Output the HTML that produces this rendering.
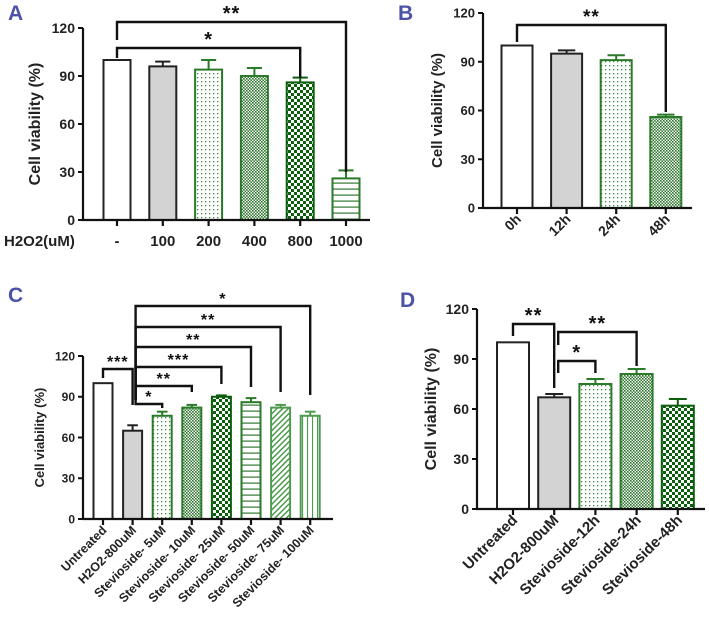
<!DOCTYPE html>
<html><head><meta charset="utf-8"><style>
html,body{margin:0;padding:0;background:#fff;}
svg{display:block;font-family:"Liberation Sans",Arial,sans-serif;}
</style></head><body>
<svg id="fig" width="709" height="622" viewBox="0 0 709 622">
<defs>
<pattern id="pDots" width="4" height="4" patternUnits="userSpaceOnUse"><rect width="4" height="4" fill="#fff"/><rect x="1" y="1" width="1.3" height="1.3" fill="#3f8a3f"/></pattern>
<pattern id="pFine" width="3" height="3" patternUnits="userSpaceOnUse"><rect width="3" height="3" fill="#fff"/><rect width="1.6" height="1.6" fill="#2f7a2f"/><rect x="1.5" y="1.5" width="1.5" height="1.5" fill="#2f7a2f"/></pattern>
<pattern id="pCheck" width="6" height="6" patternUnits="userSpaceOnUse"><rect width="6" height="6" fill="#fff"/><rect width="3" height="3" fill="#0b5e0b"/><rect x="3" y="3" width="3" height="3" fill="#0b5e0b"/></pattern>
<pattern id="pHoriz" width="6" height="6" patternUnits="userSpaceOnUse"><rect width="6" height="6" fill="#fff"/><rect y="2.5" width="6" height="1.2" fill="#2f7a2f"/></pattern>
<pattern id="pDiag" width="4" height="4" patternUnits="userSpaceOnUse" patternTransform="rotate(45)"><rect width="4" height="4" fill="#fff"/><rect width="1.5" height="4" fill="#4f9a4f"/></pattern>
<pattern id="pVert" width="5" height="5" patternUnits="userSpaceOnUse"><rect width="5" height="5" fill="#fff"/><rect x="2" width="1.1" height="5" fill="#4f9a4f"/></pattern>
</defs>
</svg>
<script>
// Panel A data
const catsA = ["-", "100", "200", "400", "800", "1000"];
const valsA = [100, 96, 94, 90, 86, 26];
const errsA = [0, 3, 6, 5, 3, 5];
// Panel B data
const catsB = ["0h", "12h", "24h", "48h"];
const valsB = [100, 95, 91, 56];
const errsB = [0, 2, 3, 1.5];
// Panel C data
const catsC = ["Untreated", "H2O2-800uM", "Stevioside- 5uM", "Stevioside- 10uM", "Stevioside- 25uM", "Stevioside- 50uM", "Stevioside- 75uM", "Stevioside- 100uM"];
const valsC = [100, 65, 76, 82, 90, 86, 82, 76];
const errsC = [0, 4, 3, 2, 1, 3, 2, 3];
// Panel D data
const catsD = ["Untreated", "H2O2-800uM", "Stevioside-12h", "Stevioside-24h", "Stevioside-48h"];
const valsD = [100, 67, 75, 81, 62];
const errsD = [0, 2, 3, 3, 4];
const yTicks = [0, 30, 60, 90, 120];

const NS = "http://www.w3.org/2000/svg";
const svg = document.getElementById("fig");
function mk(tag, attrs, parent) {
  const e = document.createElementNS(NS, tag);
  for (const k in attrs) e.setAttribute(k, attrs[k]);
  (parent || svg).appendChild(e);
  return e;
}
const styles = {
  white: {fill: "#fff", stroke: "#222"},
  grey: {fill: "#d3d3d3", stroke: "#222"},
  dots: {fill: "url(#pDots)", stroke: "#2a7a2a"},
  fine: {fill: "url(#pFine)", stroke: "#2a7a2a"},
  check: {fill: "url(#pCheck)", stroke: "#0b5e0b"},
  horiz: {fill: "url(#pHoriz)", stroke: "#2a7a2a"},
  diag: {fill: "url(#pDiag)", stroke: "#4f9a4f"},
  vert: {fill: "url(#pVert)", stroke: "#4f9a4f"}
};

function panel(p) {
  const g = mk("g", {});
  
  
  const y = v => p.y0 - (v / 120) * (p.y0 - p.y120);
  const x = i => p.xFirst + i * p.step;
  const L = mk("text", {x: p.lx, y: p.ly, "font-size": 21, "font-weight": "bold", fill: "#4b52a8"}, g);
  L.textContent = p.letter;
  
  
  const ya = mk("line", {x1: p.ax, y1: y(120), x2: p.ax, y2: p.y0, stroke: "#111", "stroke-width": 2.2}, g);
  
  
  yTicks.forEach(t => {
    mk("line", {x1: p.ax - 5, y1: y(t), x2: p.ax, y2: y(t), stroke: "#111", "stroke-width": 2}, g);
    const tt = mk("text", {x: p.ax - 8, y: y(t) + p.fs * 0.36, "font-size": p.fs, "font-weight": "bold", "text-anchor": "end", fill: "#222"}, g);
    tt.textContent = t;
    
    
  });
  const yt = mk("text", {x: 0, y: 0, "font-size": p.tfs, "font-weight": "bold", "text-anchor": "middle", fill: "#222",
    transform: `translate(${p.titleX},${(y(120) + p.y0) / 2}) rotate(-90)`}, g);
  yt.textContent = "Cell viability (%)";
  
  
  p.vals.forEach((v, i) => {
    const s = styles[p.styles[i]];
    const cx = x(i), w = p.bw;
    const b = mk("rect", {x: cx - w / 2, y: y(v), width: w, height: p.y0 - y(v), fill: s.fill, stroke: s.stroke, "stroke-width": 2}, g);
    
    
    if (p.errs[i] > 0) {
      const top = y(v + p.errs[i]);
      mk("line", {x1: cx, y1: y(v), x2: cx, y2: top, stroke: s.stroke, "stroke-width": 2}, g);
      mk("line", {x1: cx - w * 0.28, y1: top, x2: cx + w * 0.28, y2: top, stroke: s.stroke, "stroke-width": 2}, g);
    }
    mk("line", {x1: cx, y1: p.y0, x2: cx, y2: p.y0 + 6, stroke: "#111", "stroke-width": 2.2}, g);
    const lab = mk("text", {"font-size": p.cfs, "font-weight": "bold", fill: "#222"}, g);
    if (p.rot) {
      lab.setAttribute("text-anchor", "end");
      lab.setAttribute("transform", `translate(${cx + p.cfs * 0.35},${p.y0 + 12}) rotate(-45)`);
    } else {
      lab.setAttribute("text-anchor", "middle");
      lab.setAttribute("x", cx);
      lab.setAttribute("y", p.y0 + 26);
    }
    lab.textContent = p.cats[i];
    
    
  });
  const xa = mk("line", {x1: p.ax - 1, y1: p.y0, x2: p.axEnd, y2: p.y0, stroke: "#111", "stroke-width": 2.2}, g);
  
  
  p.sig.forEach(s => {
    const [i, j, ly, ld, rd, lbl, off] = s;
    const x1 = x(i) + (off || 0), x2 = x(j);
    const br = mk("path", {d: `M${x1},${ld} L${x1},${ly} L${x2},${ly} L${x2},${rd}`, fill: "none", stroke: "#111", "stroke-width": 2.4}, g);
    
    
    const st = mk("text", {x: (x1 + x2) / 2, y: ly - 2, "font-size": p.sfs, "font-weight": "bold", "text-anchor": "middle", fill: "#111", "letter-spacing": 1}, g);
    st.textContent = lbl;
    
    
  });
  if (p.extra) p.extra(g, x, y);
}

panel({name: "panel-a", letter: "A", lx: 8, ly: 20, ax: 83, y0: 220, y120: 28, xFirst: 117, step: 45.8, bw: 27, axEnd: 370,
  cats: catsA, vals: valsA, errs: errsA, styles: ["white", "grey", "dots", "fine", "check", "horiz"],
  fs: 14, tfs: 16, titleX: 40, cfs: 15, sfs: 20, rot: false,
  sig: [[0, 5, 22, 40, 172, "**"], [0, 4, 48, 58, 78, "*"]],
  extra: (g) => { const t = mk("text", {x: 4, y: 246, "font-size": 15, "font-weight": "bold", fill: "#222"}, g); t.textContent = "H2O2(uM)";
      }});

panel({name: "panel-b", letter: "B", lx: 398, ly: 20, ax: 483, y0: 208, y120: 13, xFirst: 517, step: 49.6, bw: 31, axEnd: 692,
  cats: catsB, vals: valsB, errs: errsB, styles: ["white", "grey", "dots", "fine"],
  fs: 13, tfs: 15, titleX: 442, cfs: 14, sfs: 19, rot: true,
  sig: [[0, 3, 25, 42, 112, "**"]]});

panel({name: "panel-c", letter: "C", lx: 8, ly: 302, ax: 83, y0: 519, y120: 356, xFirst: 103, step: 29.6, bw: 19, axEnd: 333,
  cats: catsC, vals: valsC, errs: errsC, styles: ["white", "grey", "dots", "fine", "check", "horiz", "diag", "vert"],
  fs: 12, tfs: 13, titleX: 44, cfs: 12.5, sfs: 16, rot: true,
  sig: [[0, 1, 369, 378, 405, "***"], [1, 7, 306, 400, 395, "*", 3], [1, 6, 327, 400, 392, "**", 3],
        [1, 5, 347, 400, 387, "**", 3], [1, 4, 367, 400, 384, "***", 3], [1, 3, 386, 400, 392, "**", 3],
        [1, 2, 404, 400, 408, "*", 3]]});

panel({name: "panel-d", letter: "D", lx: 400, ly: 307, ax: 477, y0: 509, y120: 309, xFirst: 513, step: 41.2, bw: 32, axEnd: 705,
  cats: catsD, vals: valsD, errs: errsD, styles: ["white", "grey", "dots", "fine", "check"],
  fs: 14, tfs: 16, titleX: 436, cfs: 15, sfs: 20, rot: true,
  sig: [[0, 1, 324, 336, 388, "**"], [1, 3, 332, 345, 366, "**", 4], [1, 2, 361, 373, 373, "*", 4]]});
</script>
</body></html>
